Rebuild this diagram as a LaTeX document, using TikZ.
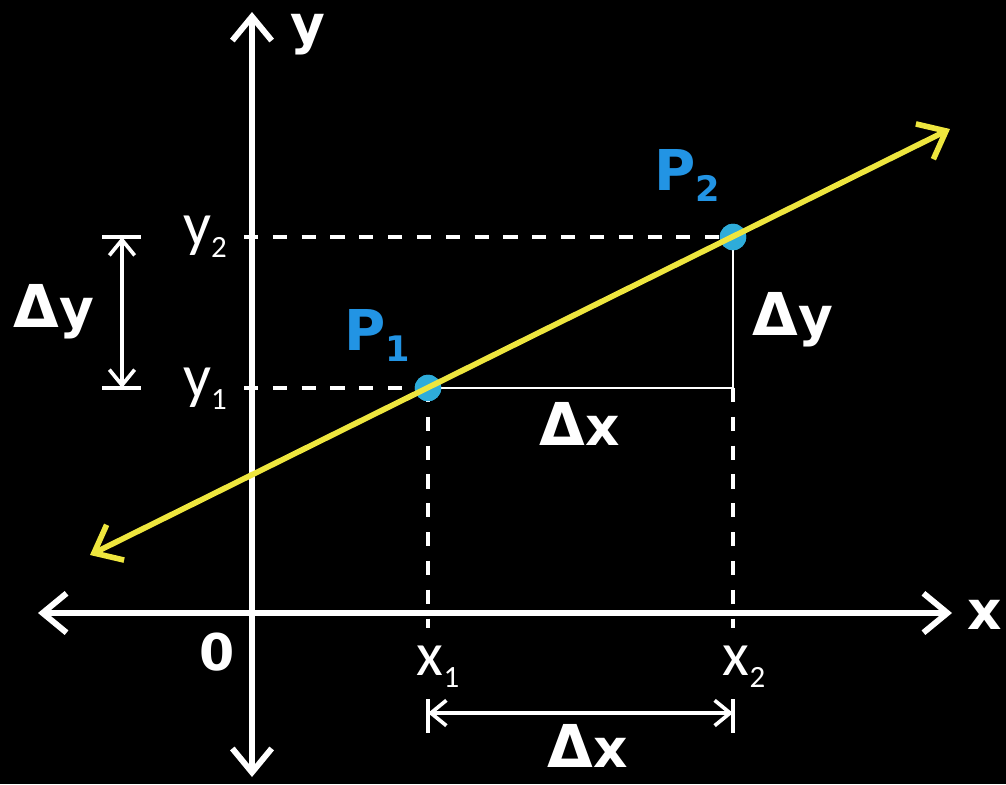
\documentclass[tikz,border=0pt]{standalone}
\usepackage{fontspec}
\setmainfont{DejaVu Sans}
\newfontfamily\ligera{Carlito}
\usepackage{tikz}
\usetikzlibrary{arrows.meta,positioning}
\definecolor{amarillo}{RGB}{238,230,62}
\definecolor{azul}{RGB}{34,148,228}
\definecolor{cian}{RGB}{46,172,218}
\newcommand{\subind}[2]{\raisebox{-0.2em}{\fontsize{#1}{#1}\selectfont #2}}
\newcommand{\incr}[1]{{\fontsize{42}{42}\selectfont Δ}#1}
\tikzset{
  ejes/.style={white,line width=4.2pt,{Straight Barb[length=17pt,width=28pt,line width=4.2pt]}-{Straight Barb[length=17pt,width=28pt,line width=4.2pt]}},
  recta/.style={amarillo,line width=4pt,{Straight Barb[length=17pt,width=28pt,line width=4pt]}-{Straight Barb[length=17pt,width=28pt,line width=4pt]}},
  guia/.style={white,line width=2.4pt,dash pattern=on 10pt off 10.5pt},
  lado/.style={white,line width=1.6pt},
  cota/.style={white,line width=2.6pt,{Straight Barb[length=11pt,width=18pt,line width=2.6pt]}-{Straight Barb[length=11pt,width=18pt,line width=2.6pt]}},
  barra/.style={white,line width=2.6pt},
  pt/.style={circle,fill=cian,inner sep=0pt,minimum size=0.66cm},
  neg/.style={white,font=\fontsize{38}{38}\selectfont\bfseries,inner sep=0pt,anchor=base},
  etq/.style={white,font=\fontsize{44}{44}\selectfont\ligera,inner sep=0pt,anchor=base},
  pnom/.style={azul,font=\fontsize{40}{40}\selectfont\bfseries,inner sep=0pt,anchor=base}
}
\begin{document}
\begin{tikzpicture}[x=0.025cm,y=-0.025cm]
\useasboundingbox (0,0) rectangle (1006,784);
\fill[black] (0,0) rectangle (1006,784);
% ejes
\coordinate (xizq) at (38,613); \coordinate (xder) at (952,613);
\coordinate (yarr) at (252,12); \coordinate (yab) at (252,777);
\draw[ejes] (xizq) -- (xder);
\draw[ejes] (yab) -- (yarr);
\node[neg] (ejey) at (308,43) {y};
\node[neg] (ejex) at (985,629) {x};
\node[neg,font=\fontsize{36}{36}\selectfont\bfseries] (origen) at (217,670) {0};
% puntos
\node[pt] (P1) at (428,388) {};
\node[pt] (P2) at (733,237) {};
\coordinate (Q) at (733,388);
\coordinate (ey1) at (244,388); \coordinate (ey2) at (244,237);
\coordinate (ex1) at (428,628); \coordinate (ex2) at (733,628);
\draw[guia] (ey1) -- (P1.center); \draw[guia] (ey2) -- (P2.center);
\draw[guia] (P1.center) -- (ex1); \draw[guia] (Q) -- (ex2);
\draw[lado] (P1.center) -- (Q) -- (P2.center);
\node[pt] at (P1) {}; \node[pt] at (P2) {};
% recta
\coordinate (ra) at (90,555); \coordinate (rb) at (950,129);
\draw[recta] (ra) -- (rb);
\node[pnom] (nP1) at (377,350) {P\subind{25}{1}};
\node[pnom] (nP2) at (687,190) {P\subind{25}{2}};
% etiquetas de ejes
\node[etq] (ny2) at (205,245) {y\subind{22}{2}};
\node[etq] (ny1) at (205,397) {y\subind{22}{1}};
\node[etq] (nx1) at (438,675) {x\subind{22}{1}};
\node[etq] (nx2) at (744,675) {x\subind{22}{2}};
% incrementos
\node[neg] (dxm) at (580,445) {\incr{x}};
\node[neg] (dyd) at (793,335) {\incr{y}};
% cota vertical
\coordinate (cy1a) at (102,237); \coordinate (cy1b) at (141,237);
\coordinate (cy2a) at (102,388); \coordinate (cy2b) at (141,388);
\draw[barra] (cy1a) -- (cy1b); \draw[barra] (cy2a) -- (cy2b);
\coordinate (cya) at (122,237); \coordinate (cyb) at (122,388);
\draw[cota] (cya) -- (cyb);
\node[neg] (dyi) at (54,327) {\incr{y}};
% cota horizontal
\coordinate (cx1a) at (428,699); \coordinate (cx1b) at (428,733);
\coordinate (cx2a) at (733,699); \coordinate (cx2b) at (733,733);
\draw[barra] (cx1a) -- (cx1b); \draw[barra] (cx2a) -- (cx2b);
\coordinate (cxa) at (428,713); \coordinate (cxb) at (733,713);
\draw[cota] (cxa) -- (cxb);
\node[neg] (dxb) at (588,767) {\incr{x}};
\end{tikzpicture}
\end{document}
